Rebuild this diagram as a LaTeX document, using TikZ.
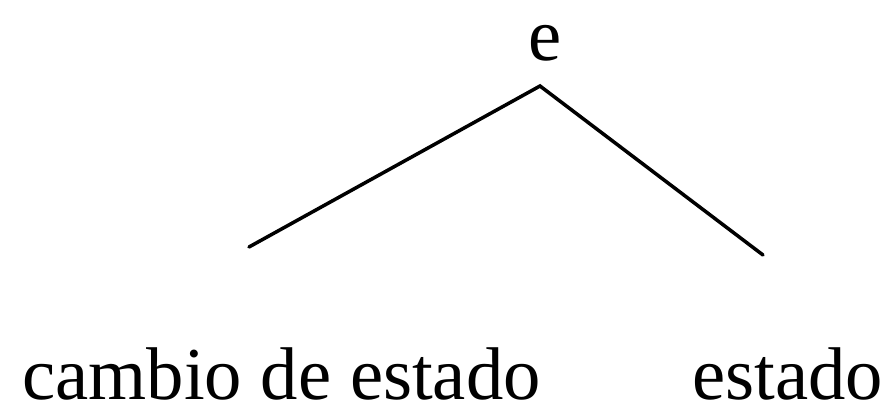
\documentclass[tikz,border=0pt]{standalone}
\usepackage{fontspec}
\setmainfont{Liberation Serif}
\usepackage{tikz}
\usetikzlibrary{positioning}
\tikzset{
  word/.style={inner sep=0pt,anchor=base west,font=\fontsize{42.5}{48}\selectfont},
  branch/.style={line width=2pt,line cap=round,draw=black},
}

\begin{document}
\begin{tikzpicture}[x=0.02cm,y=-0.02cm]
\useasboundingbox (0,0) rectangle (888,410);
\node[word] (ev) at (528,60) {e};
\node[word] (cambio) at (22,399) {cambio de estado};
\node[word] (estado) at (692,399) {estado};
\coordinate (apex) at (540,86);
\coordinate (lend) at (249,247);
\coordinate (rend) at (763,255);
\draw[branch] (lend) -- (apex) -- (rend);
\end{tikzpicture}
\end{document}
